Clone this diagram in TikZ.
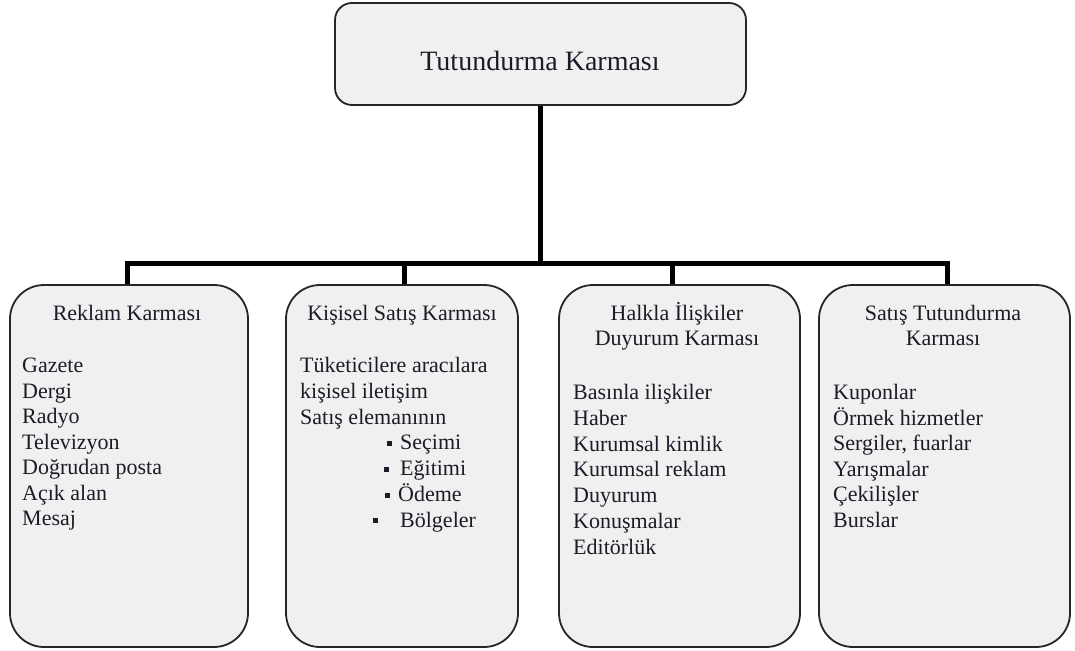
\documentclass[tikz,border=0pt]{standalone}
\usepackage{fontspec}
\setmainfont{Liberation Serif}
\definecolor{boxfill}{HTML}{F0F0F0}
\definecolor{boxline}{HTML}{262626}
\definecolor{txt}{HTML}{1C1C28}
\newcommand\sqbullet{\raisebox{4pt}{\rule{5pt}{5pt}}}
\begin{document}
\begin{tikzpicture}[x=1pt,y=-1pt,
  panel/.style={draw=boxline, line width=1.8pt, fill=boxfill, rounded corners=34pt, inner sep=0pt},
  conn/.style={line width=5pt, black, line join=miter},
  ttl/.style={anchor=base, text=txt, font=\fontsize{22}{26}\selectfont, inner sep=0pt},
  item/.style={anchor=base west, text=txt, font=\fontsize{22}{26}\selectfont, inner sep=0pt}]
\useasboundingbox (0,0) rectangle (1075,650);

% top box
\node[panel, rounded corners=17pt, minimum width=411pt, minimum height=102pt] (top) at (540.5,54) {};
\node[anchor=base, text=txt, font=\fontsize{28}{32}\selectfont, inner sep=0pt] (toplabel) at (540,71) {Tutundurma Karması};

% lower boxes
\node[panel, minimum width=238pt, minimum height=362pt] (b1) at (129,466) {};
\node[panel, minimum width=232pt, minimum height=362pt] (b2) at (402,466) {};
\node[panel, minimum width=241pt, minimum height=362pt] (b3) at (679.5,466) {};
\node[panel, minimum width=251pt, minimum height=362pt] (b4) at (944.5,466) {};

% connectors
\coordinate (bus) at (540,263);
\draw[conn] (top.south) -- (top.south |- bus);
\draw[conn] ([xshift=-2pt]b1.north) -- ([xshift=-2pt]b1.north |- bus) -- ([xshift=2.5pt]b4.north |- bus) -- ([xshift=2.5pt]b4.north);
\draw[conn] ([xshift=2pt]b2.north) -- ([xshift=2pt]b2.north |- bus);
\draw[conn] ([xshift=-7.5pt]b3.north) -- ([xshift=-7.5pt]b3.north |- bus);

% box 1
\node[ttl] (t1) at (127,320.5) {Reklam Karması};
\foreach \t [count=\i from 0] in {Gazete,Dergi,Radyo,Televizyon,Doğrudan posta,Açık alan,Mesaj}
  \node[item] (ra\i) at (22,372.5+25.5*\i) {\t};

% box 2
\node[ttl] (t2) at (402,320.5) {Kişisel Satış Karması};
\node[item] (ka0) at (300,372.5) {Tüketicilere aracılara};
\node[item] (ka1) at (300,398.3) {kişisel iletişim};
\node[item] (ka2) at (300,424.1) {Satış elemanının};
\node[item] (kb1) at (387,449.9) {\sqbullet\hspace{8pt}Seçimi};
\node[item] (kb2) at (384,475.7) {\sqbullet\hspace{11pt}Eğitimi};
\node[item] (kb3) at (385,501.5) {\sqbullet\hspace{8pt}Ödeme};
\node[item] (kb4) at (373,527.3) {\sqbullet\hspace{22pt}Bölgeler};

% box 3
\node[ttl] (t3a) at (677,320.5) {Halkla İlişkiler};
\node[ttl] (t3b) at (677,345.5) {Duyurum Karması};
\foreach \t [count=\i from 0] in {Basınla ilişkiler,Haber,Kurumsal kimlik,Kurumsal reklam,Duyurum,Konuşmalar,Editörlük}
  \node[item] (ha\i) at (573,399.5+25.8*\i) {\t};

% box 4
\node[ttl] (t4a) at (943,320.5) {Satış Tutundurma};
\node[ttl] (t4b) at (943,345.5) {Karması};
\foreach \t [count=\i from 0] in {Kuponlar,Örmek hizmetler,{Sergiler, fuarlar},Yarışmalar,Çekilişler,Burslar}
  \node[item] (sa\i) at (833,399.5+25.6*\i) {\t};
\end{tikzpicture}
\end{document}
